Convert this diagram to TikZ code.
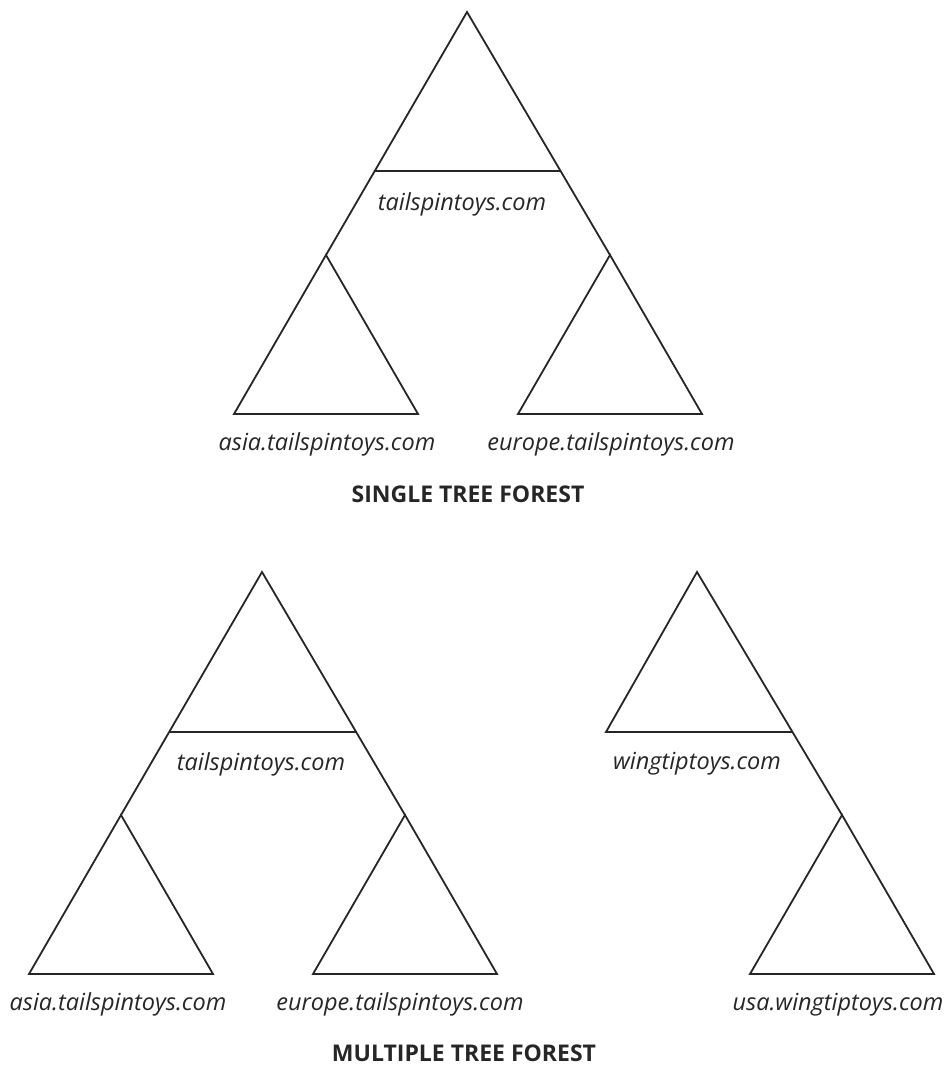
\documentclass[tikz,border=0pt]{standalone}
\usepackage{fontspec}
\setmainfont{Open Sans}
\usetikzlibrary{positioning, calc}
\tikzstyle{tree} = [line width=1.8pt, draw=black!85]
\tikzstyle{domainlabel} = [font=\fontsize{23.5}{28}\selectfont\itshape, text=black!85, inner sep=0pt, anchor=base]
\tikzstyle{foresttitle} = [font=\fontsize{23}{28}\selectfont\bfseries, text=black!85, inner sep=0pt, anchor=base]

\begin{document}
\begin{tikzpicture}[x=1pt, y=-1pt]
        \useasboundingbox (0,0) rectangle (946,1065);
        % Single tree forest
        \coordinate (root) at (467,12);
        \coordinate (asia) at (326,255);
        \coordinate (europe) at (610,255);
        \coordinate (rootL) at ($(root)!0.654!(asia)$);
        \coordinate (rootR) at ($(root)!0.654!(europe)$);

        \draw [tree] (asia) -- (root) -- (europe);
        \draw [tree] (rootL) -- (rootR);
        \draw [tree] (asia) -- ++(-92,159) -- ++(184,0) -- cycle;
        \draw [tree] (europe) -- ++(-92,159) -- ++(184,0) -- cycle;

        \node (rootname) [domainlabel] at (462,210) {tailspintoys.com};
        \node (asianame) [domainlabel] at (327,450) {asia.tailspintoys.com};
        \node (europename) [domainlabel] at (611,450) {europe.tailspintoys.com};
        \node (single) [foresttitle] at (468,502) {SINGLE TREE FOREST};

        % Multiple tree forest
        \coordinate (tsroot) at (262,572);
        \coordinate (tsasia) at (121,815);
        \coordinate (tseurope) at (405,815);
        \coordinate (tsrootL) at ($(tsroot)!0.658!(tsasia)$);
        \coordinate (tsrootR) at ($(tsroot)!0.658!(tseurope)$);

        \draw [tree] (tsasia) -- (tsroot) -- (tseurope);
        \draw [tree] (tsrootL) -- (tsrootR);
        \draw [tree] (tsasia) -- ++(-92,159) -- ++(184,0) -- cycle;
        \draw [tree] (tseurope) -- ++(-92,159) -- ++(184,0) -- cycle;

        \coordinate (wtroot) at (697,572);
        \coordinate (wtusa) at (842,815);
        \coordinate (wtrootL) at (606,732);
        \coordinate (wtrootR) at ($(wtroot)!0.658!(wtusa)$);

        \draw [tree] (wtrootR) -- (wtrootL) -- (wtroot) -- (wtusa);
        \draw [tree] (wtusa) -- ++(-92,159) -- ++(184,0) -- cycle;

        \node (tsname) [domainlabel] at (261,770) {tailspintoys.com};
        \node (wtname) [domainlabel] at (697,769) {wingtiptoys.com};
        \node (tsasianame) [domainlabel] at (118,1010) {asia.tailspintoys.com};
        \node (tseuropename) [domainlabel] at (400,1010) {europe.tailspintoys.com};
        \node (wtusaname) [domainlabel] at (838,1010) {usa.wingtiptoys.com};
        \node (multiple) [foresttitle] at (464,1061) {MULTIPLE TREE FOREST};
    \end{tikzpicture}
\end{document}
